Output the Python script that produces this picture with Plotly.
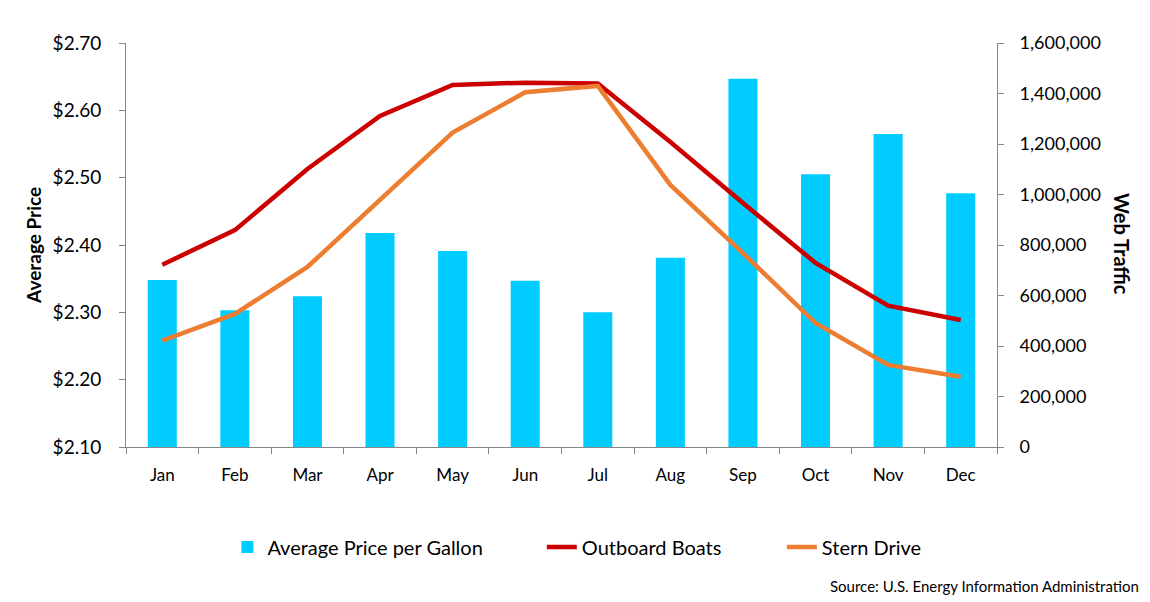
import plotly.graph_objects as go

months = ["Jan", "Feb", "Mar", "Apr", "May", "Jun", "Jul", "Aug", "Sep", "Oct", "Nov", "Dec"]
avg_price = [2.348, 2.303, 2.324, 2.418, 2.391, 2.347, 2.300, 2.381, 2.647, 2.505, 2.565, 2.477]
outboard = [722000, 859000, 1101000, 1311000, 1434000, 1443000, 1440000, 1208000, 966000, 729000, 560000, 503000]
stern = [421000, 527000, 713000, 982000, 1245000, 1405000, 1430000, 1038000, 768000, 491000, 325000, 278000]

FONT = "Lato"
AXIS_COLOR = "#868686"

fig = go.Figure()
fig.add_trace(go.Bar(x=months, y=avg_price, name="Average Price per Gallon",
                     marker=dict(color="#00CCFF", line=dict(width=0)),
                     yaxis="y", legend="legend"))
fig.add_trace(go.Scatter(x=months, y=outboard, name="Outboard Boats", mode="lines",
                         line=dict(color="#CC0000", width=4.5), yaxis="y2", legend="legend2"))
fig.add_trace(go.Scatter(x=months, y=stern, name="Stern Drive", mode="lines",
                         line=dict(color="#ED7D31", width=4.5), yaxis="y2", legend="legend3"))

legend_common = dict(orientation="h", yanchor="middle", y=-0.2475, xanchor="left",
                     font=dict(family=FONT, size=20, color="#000000"),
                     bgcolor="rgba(0,0,0,0)", itemwidth=30)

fig.update_layout(
    width=1150, height=602,
    margin=dict(l=126, r=153, t=43, b=155),
    paper_bgcolor="white", plot_bgcolor="white",
    font=dict(family=FONT, size=17, color="#000000"),
    bargap=0.6,
    showlegend=True,
    legend=dict(legend_common, x=0.1164),
    legend2=dict(legend_common, x=0.4774),
    legend3=dict(legend_common, x=0.753),
    xaxis=dict(showline=True, linecolor=AXIS_COLOR, linewidth=1,
               ticks="outside", tickson="boundaries", ticklen=6, tickcolor=AXIS_COLOR,
               tickfont=dict(family=FONT, size=17), showgrid=False, zeroline=False,
               ticklabelstandoff=13),
    yaxis=dict(range=[2.10, 2.70], dtick=0.1, tickformat=".2f", tickprefix="$",
               showline=True, linecolor=AXIS_COLOR, linewidth=1,
               ticks="outside", ticklen=6, tickcolor=AXIS_COLOR,
               tickfont=dict(family=FONT, size=19), showgrid=False, zeroline=False,
               ticklabelstandoff=14),
    yaxis2=dict(range=[0, 1600000], dtick=200000, tickformat=",d", overlaying="y", side="right",
                showline=True, linecolor=AXIS_COLOR, linewidth=1,
                ticks="outside", ticklen=6, tickcolor=AXIS_COLOR,
                tickfont=dict(family=FONT, size=18), showgrid=False, zeroline=False,
                ticklabelstandoff=12),
    annotations=[
        dict(text="<b>Average Price</b>", textangle=-90, xref="paper", yref="paper",
             x=(33 - 126) / 871, y=(447 - 246) / 404, xanchor="center", yanchor="middle",
             showarrow=False, font=dict(family=FONT, size=19)),
        dict(text="<b>Web Traffic</b>", textangle=90, xref="paper", yref="paper",
             x=(1122 - 126) / 871, y=(447 - 244) / 404, xanchor="center", yanchor="middle",
             showarrow=False, font=dict(family=FONT, size=20)),
        dict(text="Source: U.S. Energy Information Administration", xref="paper", yref="paper",
             x=(1141 - 126) / 871, y=(447 - 586) / 404, xanchor="right", yanchor="middle",
             showarrow=False, font=dict(family=FONT, size=15)),
    ],
)

fig.write_html("out.html")
